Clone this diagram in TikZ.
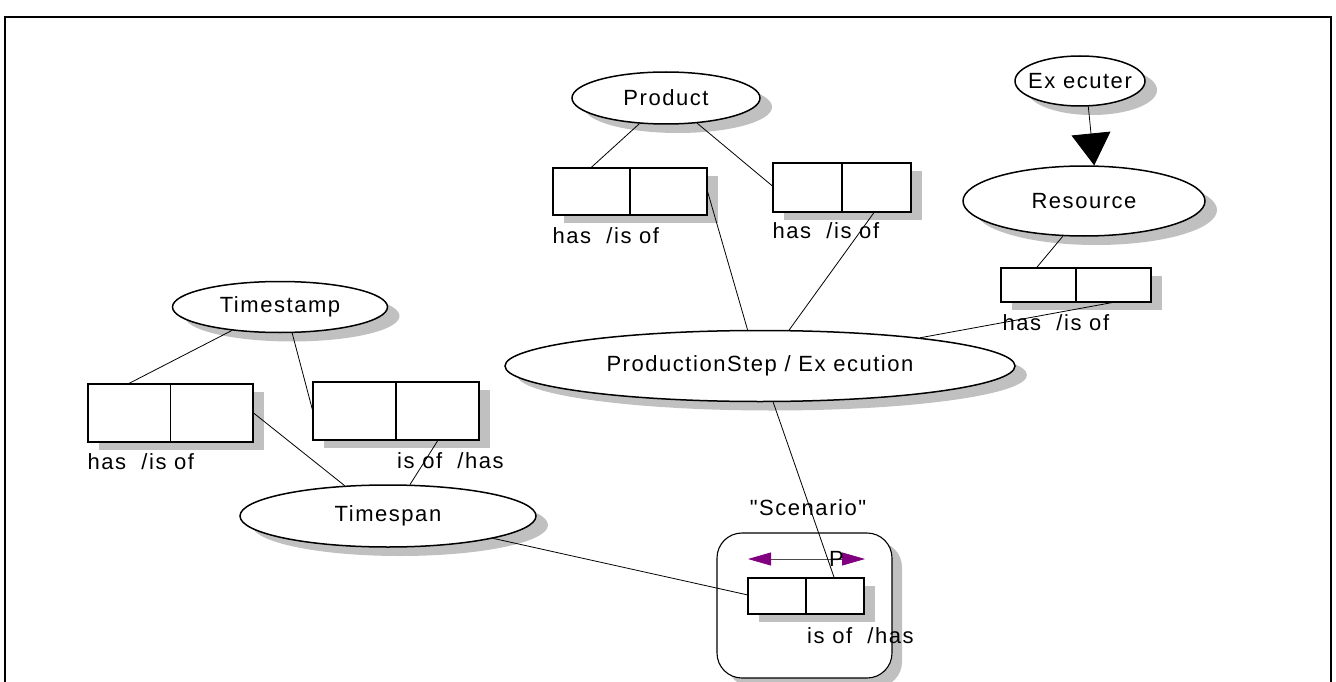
\documentclass[tikz,border=0pt]{standalone}
\usepackage{fontspec}
\setmainfont{Liberation Sans}[LetterSpace=7]
\newfontfamily\straightquotes{Liberation Sans}[LetterSpace=7, Ligatures=TeXOff]
\usetikzlibrary{shapes.geometric,shadows,arrows.meta,calc}
\definecolor{shade}{RGB}{192,192,192}
\definecolor{tipviolet}{RGB}{128,0,128}
\tikzset{
  entity/.style={ellipse, draw, line width=1.5pt, fill=white, inner sep=0pt,
    drop shadow={shadow xshift=12pt, shadow yshift=-9pt, fill=shade, opacity=1}},
  pair/.style={rectangle, draw, line width=1.1pt, fill=white, inner sep=0pt,
    drop shadow={shadow xshift=11pt, shadow yshift=-8pt, fill=shade, opacity=1}},
  frame/.style={rectangle, draw, line width=1.1pt, fill=white, rounded corners=25pt,
    drop shadow={shadow xshift=10pt, shadow yshift=-9pt, fill=shade, opacity=1}},
  link/.style={line width=0.8pt},
  lbl/.style={inner sep=0pt, anchor=base west},
  divider/.style={line width=1.1pt},
}
% a role pair: two equal cells side by side
\newcommand{\rolepair}[4]{%
  \node[pair, minimum width=#3, minimum height=#4] (#1) at #2 {};
  \draw[divider] (#1.north) -- (#1.south);
}
\begin{document}
\begin{tikzpicture}[x=1pt, y=-1pt, font=\fontsize{22}{26}\selectfont]
\useasboundingbox (0,0) rectangle (1336,682);

% outer frame
\draw[line width=2pt] (5,682) -- (5,17) -- (1331,17) -- (1331,682);

% entities
\node[entity, minimum width=188, minimum height=52, label=center:Product] (product) at (666,98) {};
\node[entity, minimum width=130, minimum height=50, label=center:{Ex ecuter}] (executer) at (1080,81) {};
\node[entity, minimum width=242, minimum height=70, label=center:Resource] (resource) at (1084,201) {};
\node[entity, minimum width=510, minimum height=71, label=center:{ProductionStep / Ex ecution}] (step) at (760,366) {};
\node[entity, minimum width=215, minimum height=51, label=center:Timestamp] (timestamp) at (280,307) {};
\node[entity, minimum width=296, minimum height=62, label=center:Timespan] (timespan) at (388,516) {};

% scenario container
\node[frame, minimum width=175, minimum height=145] (scenario) at (804.5,605.5) {};
\node[inner sep=0pt, anchor=base, font=\fontsize{22}{26}\straightquotes] (scenlabel) at (808,515) {"Scenario"};

% role pairs
\rolepair{pboxa}{(630,191.5)}{154}{47}
\rolepair{pboxb}{(842,187.5)}{138}{49}
\rolepair{rbox}{(1076,285)}{150}{34}
\rolepair{tboxa}{(170.5,413)}{165}{58}
\rolepair{tboxb}{(396,411)}{166}{58}
\rolepair{sbox}{(806,596)}{116}{36}

% role labels
\node[lbl] (pboxalbl) at ($(pboxa.south west)+(0,28)$) {has~~/is of};
\node[lbl] (pboxblbl) at ($(pboxb.south west)+(0,26)$) {has~~/is of};
\node[lbl] (rboxlbl) at ($(rbox.south west)+(2,28)$) {has~~/is of};
\node[lbl] (tboxalbl) at ($(tboxa.south west)+(0,27)$) {has~~/is of};
\node[lbl] (tboxblbl) at ($(tboxb.south)+(1,28)$) {is of~~/has};
\node[lbl] (sboxlbl) at ($(sbox.south)+(1,29)$) {is of~~/has};

% scenario ordering arrow
\coordinate (pl) at (748,559);
\coordinate (pr) at (865,559);
\draw[line width=0.8pt, draw=black!70,
  {Triangle[length=23pt,width=13pt,color=tipviolet,fill=tipviolet]}-{Triangle[length=23pt,width=13pt,color=tipviolet,fill=tipviolet]}]
  (pl) -- (pr);
\node[inner sep=0pt, anchor=base west] (plabel) at (829,566) {P};

% subtype arrow
\draw[link, -{Triangle[length=32pt,width=39pt]}] (executer.-72) -- (resource.74);

% connectors
\draw[link] (product.224) -- ($(pboxa.north west)!.25!(pboxa.north east)$);
\draw[link] (product.-39) -- ($(pboxb.north west)!.47!(pboxb.south west)$);
\draw[link] (pboxa.east) -- (step.109);
\draw[link] ($(pboxb.south west)!.73!(pboxb.south east)$) -- (step.51);
\draw[link] (resource.-121) -- ($(rbox.north west)!.24!(rbox.north east)$);
\draw[link] ($(rbox.south west)!.74!(rbox.south east)$) -- (step.10.75);
\draw[link] (step.-70) -- ($(sbox.north west)!.74!(sbox.north east)$);
\draw[link] (timestamp.206) -- ($(tboxa.north west)!.25!(tboxa.north east)$);
\draw[link] (timestamp.-65) -- ($(tboxb.north west)!.48!(tboxb.south west)$);
\draw[link] (tboxa.east) -- (timespan.145);
\draw[link] ($(tboxb.south west)!.75!(tboxb.south east)$) -- (timespan.55);
\draw[link] (timespan.-12) -- ($(sbox.north west)!.47!(sbox.south west)$);
\end{tikzpicture}
\end{document}
